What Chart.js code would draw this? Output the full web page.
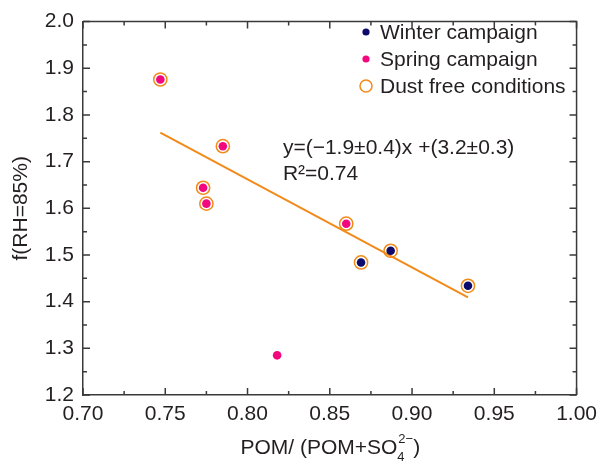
<!DOCTYPE html>
<html>
<head>
<meta charset="utf-8">
<script src="https://cdn.jsdelivr.net/npm/chart.js@4.4.0/dist/chart.umd.min.js"></script>
<style>
  html, body { margin: 0; padding: 0; background: #fff; }
</style>
</head>
<body>
<canvas id="myChart" width="604" height="462"></canvas>
<script>
// values
const winterX = [0.887, 0.869, 0.934];
const winterY = [1.509, 1.484, 1.434];
const springX = [0.747, 0.785, 0.773, 0.775, 0.860, 0.818];
const springY = [1.876, 1.733, 1.644, 1.610, 1.567, 1.285];
const dustX = [0.747, 0.785, 0.773, 0.775, 0.860, 0.887, 0.869, 0.934];
const dustY = [1.876, 1.733, 1.644, 1.610, 1.567, 1.509, 1.484, 1.434];
const fitX = [0.747, 0.934];
const fitY = [1.762, 1.409];
const labels = ['Winter campaign', 'Spring campaign', 'Dust free conditions'];
const fitText = ['y=(\u22121.9\u00b10.4)x +(3.2\u00b10.3)', 'R\u00b2=0.74'];
const fitTextPos = [0.8215, 1.729];

const navy = '#0c0a6a';
const pink = '#f2077f';
const orange = '#f28a1a';
const ink = '#231f20';
const axisColor = '#3a3a3a';
const fontFam = '"Liberation Sans", Arial, Helvetica, sans-serif';

function toPoints(xs, ys) {
    return xs.map((x, i) => ({x: x, y: ys[i]}));
}

// frame, inward ticks, legend, equation and x title
const extras = {
    id: 'extras',
    afterDraw(chart) {
        const {ctx, chartArea: a, scales: {x, y}} = chart;
        ctx.save();
        ctx.strokeStyle = axisColor;
        ctx.lineWidth = 1.5;
        ctx.beginPath();
        ctx.moveTo(a.left, a.top);
        ctx.lineTo(a.right, a.top);
        ctx.lineTo(a.right, a.bottom);
        ctx.stroke();

        ctx.beginPath();
        const xt = x.ticks.map(t => t.value);
        xt.forEach((v, i) => {
            let px = x.getPixelForValue(v);
            ctx.moveTo(px, a.bottom); ctx.lineTo(px, a.bottom - 7);
            ctx.moveTo(px, a.top); ctx.lineTo(px, a.top + 7);
            if (i < xt.length - 1) {
                px = x.getPixelForValue((v + xt[i + 1]) / 2);
                ctx.moveTo(px, a.bottom); ctx.lineTo(px, a.bottom - 4);
                ctx.moveTo(px, a.top); ctx.lineTo(px, a.top + 4);
            }
        });
        const yt = y.ticks.map(t => t.value);
        yt.forEach((v, i) => {
            let py = y.getPixelForValue(v);
            ctx.moveTo(a.left, py); ctx.lineTo(a.left + 7, py);
            ctx.moveTo(a.right, py); ctx.lineTo(a.right - 7, py);
            if (i < yt.length - 1) {
                py = y.getPixelForValue((v + yt[i + 1]) / 2);
                ctx.moveTo(a.left, py); ctx.lineTo(a.left + 4, py);
                ctx.moveTo(a.right, py); ctx.lineTo(a.right - 4, py);
            }
        });
        ctx.stroke();

        // legend
        ctx.font = '21px ' + fontFam;
        ctx.fillStyle = ink;
        ctx.textBaseline = 'middle';
        ctx.textAlign = 'left';
        const lx = 366, tx = 380;
        const rows = [32, 59, 86];
        chart.data.datasets.slice(0, 3).forEach((ds, i) => {
            ctx.beginPath();
            if (i < 2) {
                ctx.fillStyle = ds.backgroundColor;
                ctx.arc(lx, rows[i], 3.6, 0, Math.PI * 2);
                ctx.fill();
            } else {
                ctx.strokeStyle = ds.borderColor;
                ctx.lineWidth = 1.5;
                ctx.arc(lx, rows[i], 6, 0, Math.PI * 2);
                ctx.stroke();
            }
            ctx.fillStyle = ink;
            ctx.fillText(ds.label, tx, rows[i] + 1);
        });

        // regression text
        const ex = x.getPixelForValue(fitTextPos[0]);
        const ey = y.getPixelForValue(fitTextPos[1]);
        ctx.fillText(fitText[0], ex, ey);
        ctx.fillText(fitText[1], ex, ey + 26);

        // x axis title with subscript / superscript
        const main = 'POM/ (POM+SO';
        const small = '13px ' + fontFam;
        ctx.font = '21px ' + fontFam;
        const w1 = ctx.measureText(main).width;
        const w3 = ctx.measureText(')').width;
        ctx.font = small;
        const w2 = ctx.measureText('2\u2212').width;
        const total = w1 + w2 + w3;
        let cx = (a.left + a.right) / 2 - total / 2;
        const ty = 448;
        ctx.font = '21px ' + fontFam;
        ctx.fillText(main, cx, ty);
        cx += w1;
        ctx.font = small;
        ctx.fillText('4', cx, ty + 9);
        ctx.fillText('2\u2212', cx + 1, ty - 9);
        cx += w2 + 1;
        ctx.font = '21px ' + fontFam;
        ctx.fillText(')', cx, ty);
        ctx.restore();
    }
};

const ctx = document.getElementById('myChart');
new Chart(ctx, {
    type: 'scatter',
    data: {
        datasets: [{
            label: labels[0],
            data: toPoints(winterX, winterY),
            backgroundColor: navy,
            borderWidth: 0,
            pointRadius: 4.3,
            order: 1
        }, {
            label: labels[1],
            data: toPoints(springX, springY),
            backgroundColor: pink,
            borderWidth: 0,
            pointRadius: 4.3,
            order: 1
        }, {
            label: labels[2],
            data: toPoints(dustX, dustY),
            backgroundColor: 'rgba(0,0,0,0)',
            borderColor: orange,
            borderWidth: 1.5,
            pointRadius: 6.6,
            order: 2
        }, {
            type: 'line',
            label: 'fit',
            data: toPoints(fitX, fitY),
            borderColor: orange,
            borderWidth: 2,
            pointRadius: 0,
            fill: false,
            order: 3
        }]
    },
    options: {
        responsive: false,
        animation: false,
        devicePixelRatio: 1,
        events: [],
        layout: {padding: {left: 0, right: 21, top: 13, bottom: 0}},
        plugins: {legend: {display: false}, tooltip: {enabled: false}},
        scales: {
            x: {
                type: 'linear',
                min: 0.70,
                max: 1.00,
                ticks: {
                    stepSize: 0.05,
                    padding: 7,
                    color: ink,
                    font: {size: 21, family: fontFam},
                    callback: v => v.toFixed(2)
                },
                grid: {display: false, drawTicks: false},
                border: {display: true, color: axisColor, width: 1.5},
                afterFit: s => { s.height = 67; }
            },
            y: {
                min: 1.2,
                max: 2.0,
                ticks: {
                    stepSize: 0.1,
                    padding: 9,
                    color: ink,
                    font: {size: 21, family: fontFam},
                    callback: v => v.toFixed(1)
                },
                grid: {display: false, drawTicks: false},
                border: {display: true, color: axisColor, width: 1.5},
                title: {
                    display: true,
                    text: 'f(RH=85%)',
                    color: ink,
                    font: {size: 21, family: fontFam},
                    padding: {top: 9, bottom: 0}
                },
                afterFit: s => { s.width = 83; }
            }
        }
    },
    plugins: [extras]
});
</script>
</body>
</html>
